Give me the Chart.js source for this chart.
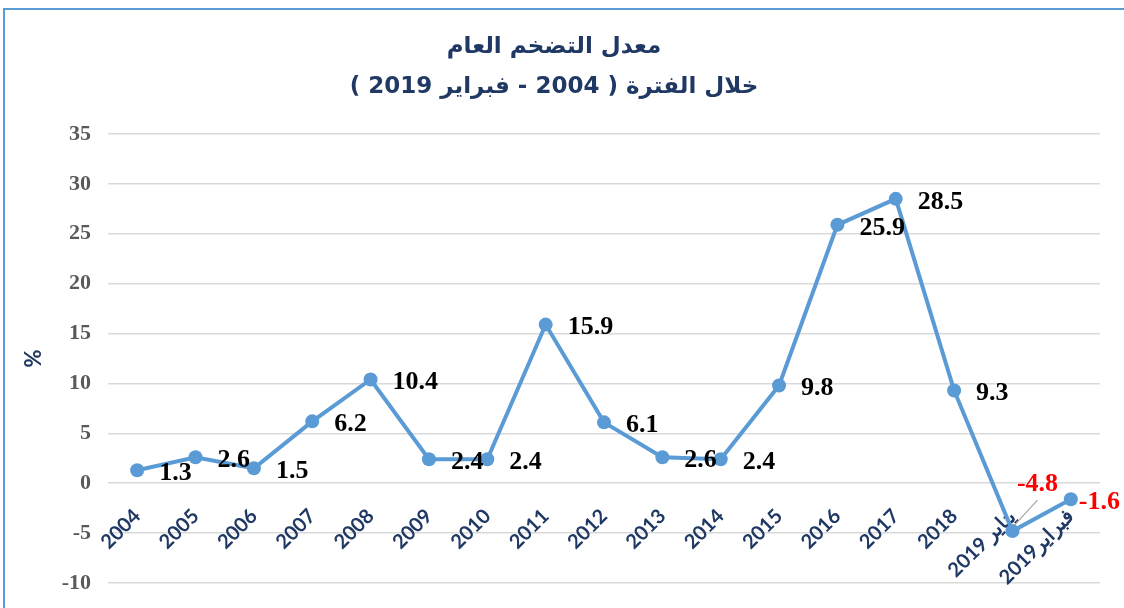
<!DOCTYPE html>
<html>
<head>
<meta charset="utf-8">
<script src="https://cdn.jsdelivr.net/npm/chart.js@4"></script>
<style>
  body { margin: 0; background: #fff; overflow: hidden; }
  #wrap { position: relative; width: 1124px; height: 608px; }
  #frame { position: absolute; left: 3px; top: 8px; width: 1140px; height: 620px;
           border: 2px solid #5b9bd5; box-sizing: border-box; pointer-events: none; }
</style>
</head>
<body>
<div id="wrap">
  <canvas id="inflation" dir="rtl" width="1124" height="608"></canvas>
  <div id="frame"></div>
</div>
<script>
// inflation rate, annual 2004-2018 then monthly Jan/Feb 2019
const years = ['2004','2005','2006','2007','2008','2009','2010','2011','2012',
               '2013','2014','2015','2016','2017','2018','يناير 2019','فبراير2019'];
const inflation = [1.3, 2.6, 1.5, 6.2, 10.4, 2.4, 2.4, 15.9, 6.1, 2.6, 2.4, 9.8, 25.9, 28.5, 9.3, -4.8, -1.6];
const yTicks = [-10, -5, 0, 5, 10, 15, 20, 25, 30, 35];
const titleLines = ['معدل التضخم العام', 'خلال الفترة ( 2004 - فبراير 2019 )'];

const navy = '#1f3864';
const lineBlue = '#5b9bd5';
const LRM = '\u200E';

// draws the value next to each point
const valueLabels = {
  id: 'valueLabels',
  afterDatasetsDraw(chart) {
    const ctx = chart.ctx;
    const meta = chart.getDatasetMeta(0);
    ctx.save();
    ctx.direction = 'ltr';
    ctx.font = 'bold 26px "Liberation Serif", "Times New Roman", serif';
    ctx.textBaseline = 'middle';
    meta.data.forEach((pt, i) => {
      const v = inflation[i];
      const txt = v.toFixed(1);
      if (v < 0) {
        ctx.fillStyle = '#ff0000';
        if (i === inflation.length - 2) {
          // leader line + label above
          ctx.strokeStyle = '#a6a6a6';
          ctx.lineWidth = 1.2;
          ctx.beginPath();
          ctx.moveTo(pt.x + 2, pt.y - 6);
          ctx.lineTo(pt.x + 25, pt.y - 31);
          ctx.stroke();
          ctx.textAlign = 'center';
          ctx.fillText(txt, pt.x + 25, pt.y - 47);
        } else {
          ctx.textAlign = 'left';
          ctx.fillText(txt, pt.x + 8, pt.y + 3);
        }
      } else {
        ctx.fillStyle = '#000';
        ctx.textAlign = 'left';
        ctx.fillText(txt, pt.x + 22, pt.y + 3);
      }
    });
    ctx.restore();
  }
};

new Chart(document.getElementById('inflation'), {
  type: 'line',
  data: {
    labels: years,
    datasets: [{
      label: '%',
      data: inflation,
      borderColor: lineBlue,
      backgroundColor: lineBlue,
      borderWidth: 4,
      pointRadius: 7,
      pointHoverRadius: 7,
      pointBackgroundColor: lineBlue,
      pointBorderWidth: 0,
      tension: 0
    }]
  },
  options: {
    responsive: false,
    animation: false,
    layout: { padding: { left: 8, right: 24, top: 0, bottom: 25 } },
    plugins: {
      legend: { display: false },
      tooltip: { enabled: false },
      title: {
        display: true,
        text: titleLines,
        color: navy,
        font: { family: '"DejaVu Sans", Arial, sans-serif', size: 23, weight: 'bold', lineHeight: '40px' },
        padding: { top: 27, bottom: 27 }
      }
    },
    scales: {
      x: {
        position: { y: 0 },
        offset: true,
        afterFit(s) { s.height = 0; s.paddingLeft = 0; s.paddingRight = 0; },
        grid: { display: false },
        border: { display: false },
        ticks: {
          color: navy,
          font: { family: 'Lato, "Open Sans", sans-serif', size: 20, weight: 'bold' },
          maxRotation: 45,
          minRotation: 45,
          padding: 13,
          autoSkip: false
        }
      },
      y: {
        min: -10,
        max: 35,
        afterFit(s) { s.width = 100; s.paddingTop = 0; s.paddingBottom = 0; },
        afterBuildTicks(s) { s.ticks = yTicks.map(v => ({ value: v })); },
        grid: { color: '#d9d9d9', lineWidth: 1.5, drawTicks: false },
        border: { display: false },
        ticks: {
          color: '#595959',
          padding: 17,
          font: { family: '"Liberation Serif", "Times New Roman", serif', size: 22, weight: 'bold' },
          callback: v => LRM + v + LRM
        },
        title: {
          display: true,
          text: '%',
          color: navy,
          font: { family: 'Lato, "Open Sans", sans-serif', size: 22, weight: 'bold' },
          padding: { top: 13, bottom: 0 }
        }
      }
    }
  },
  plugins: [valueLabels]
});
</script>
</body>
</html>
